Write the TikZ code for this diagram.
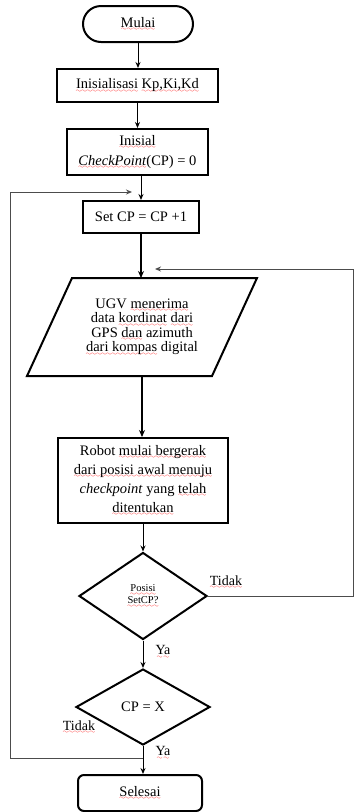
\documentclass[tikz,border=0pt]{standalone}
\usepackage{fontspec}
\setmainfont{Liberation Serif}
\usetikzlibrary{arrows.meta,calc,shapes.geometric}
\font\sixly=lasy6
\newsavebox\sqbox
\newcommand\sq[1]{\sbox\sqbox{#1}\rlap{\textcolor{red}{\hbox to\wd\sqbox{\xleaders\hbox{\lower3.2pt\hbox{\sixly\char58}}\hfill}}}\usebox\sqbox\relax}
\begin{document}
\begin{tikzpicture}[x=1pt,y=-1pt,
  box/.style={draw,line width=2pt,align=center,inner sep=0pt,font=\fontsize{14.5}{20}\selectfont},
  conn/.style={line width=1pt,-{Stealth[length=6pt,width=5pt]}},
  thickconn/.style={line width=2.4pt,-{Stealth[length=7pt,width=6pt]}},
  loopline/.style={line width=1pt,draw=black!70,-{Stealth[length=6pt,width=5pt]}},
  lbl/.style={font=\fontsize{14}{16}\selectfont,inner sep=0pt}]
\useasboundingbox (0,0) rectangle (355,812);
\fill[white] (0,0) rectangle (355,812);

\node[box,rounded corners=18pt,minimum width=110pt,minimum height=36pt] (mulai) at (138,24) {\sq{Mulai}};
\node[box,minimum width=161pt,minimum height=33pt] (init) at (137.5,85.5) {\sq{Inisialisasi} \sq{Kp,Ki,Kd}};
\node[box,minimum width=141pt,minimum height=46pt] (inicp) at (137.5,152) {\sq{Inisial}\\\sq{\textit{CheckPoint}}(CP) = 0};
\node[box,minimum width=116pt,minimum height=32pt] (setcp) at (141,217) {Set CP = CP +1};
\node[align=center,inner sep=0pt,font=\fontsize{14.5}{14.5}\selectfont] (para) at (142,327) {UGV \sq{menerima}\\data \sq{kordinat} \sq{dari}\\GPS \sq{dan} azimuth\\\sq{dari kompas} digital};
\draw[line width=2pt] ($(para)+(-70,-49)$) -- ($(para)+(115,-49)$) -- ($(para)+(70,49)$) -- ($(para)+(-115,49)$) -- cycle;
\coordinate (paraT) at ($(para)+(0,-49)$);
\coordinate (paraB) at ($(para)+(0,49)$);
\node[box,minimum width=170pt,minimum height=85pt,font=\fontsize{14.5}{19}\selectfont] (robot) at (143,480.5) {Robot \sq{mulai bergerak}\\\sq{dari posisi awal menuju}\\\textit{checkpoint} yang \sq{telah}\\\sq{ditentukan}};
\node[draw,line width=2pt,shape=diamond,minimum width=128pt,minimum height=87pt,inner sep=0pt,align=center,font=\fontsize{10.5}{12}\selectfont] (d1) at (143,596) {\sq{Posisi}\\\sq{SetCP?}};
\node[draw,line width=2pt,shape=diamond,minimum width=134pt,minimum height=76pt,inner sep=0pt,align=center,font=\fontsize{14.5}{16}\selectfont] (d2) at (143,707) {CP = X};
\node[box,rounded corners=6pt,minimum width=124pt,minimum height=36pt] (selesai) at (140,793) {\sq{Selesai}};

\draw[conn] (mulai.south) -- (mulai.south |- init.north);
\draw[conn] (init.south) -- (inicp.north);
\draw[conn] (setcp.north |- inicp.south) -- (setcp.north);
\draw[thickconn] (setcp.south) -- (setcp.south |- paraT);
\draw[thickconn] (paraB) -- (paraB |- robot.north);
\draw[conn] (robot.south) -- (d1.north);
\draw[conn] (d1.south) -- (d2.north);
\draw[conn] (d2.south) -- (d2.south |- selesai.north);

\coordinate (rc) at (353,269);
\coordinate (rin) at (155,269);
\draw[loopline] (d1.east) -| (rc) -- (rin);
\coordinate (lj) at (143,758);
\coordinate (lc) at (10,192);
\coordinate (lin) at (132,192);
\draw[loopline] (lj) -| (lc) -- (lin);

\node[lbl] (t1) at (226,582) {\sq{Tidak}};
\node[lbl] (t2) at (79,727) {\sq{Tidak}};
\node[lbl] (y1) at (163,652) {\sq{Ya}};
\node[lbl] (y2) at (163,753) {\sq{Ya}};
\end{tikzpicture}
\end{document}
